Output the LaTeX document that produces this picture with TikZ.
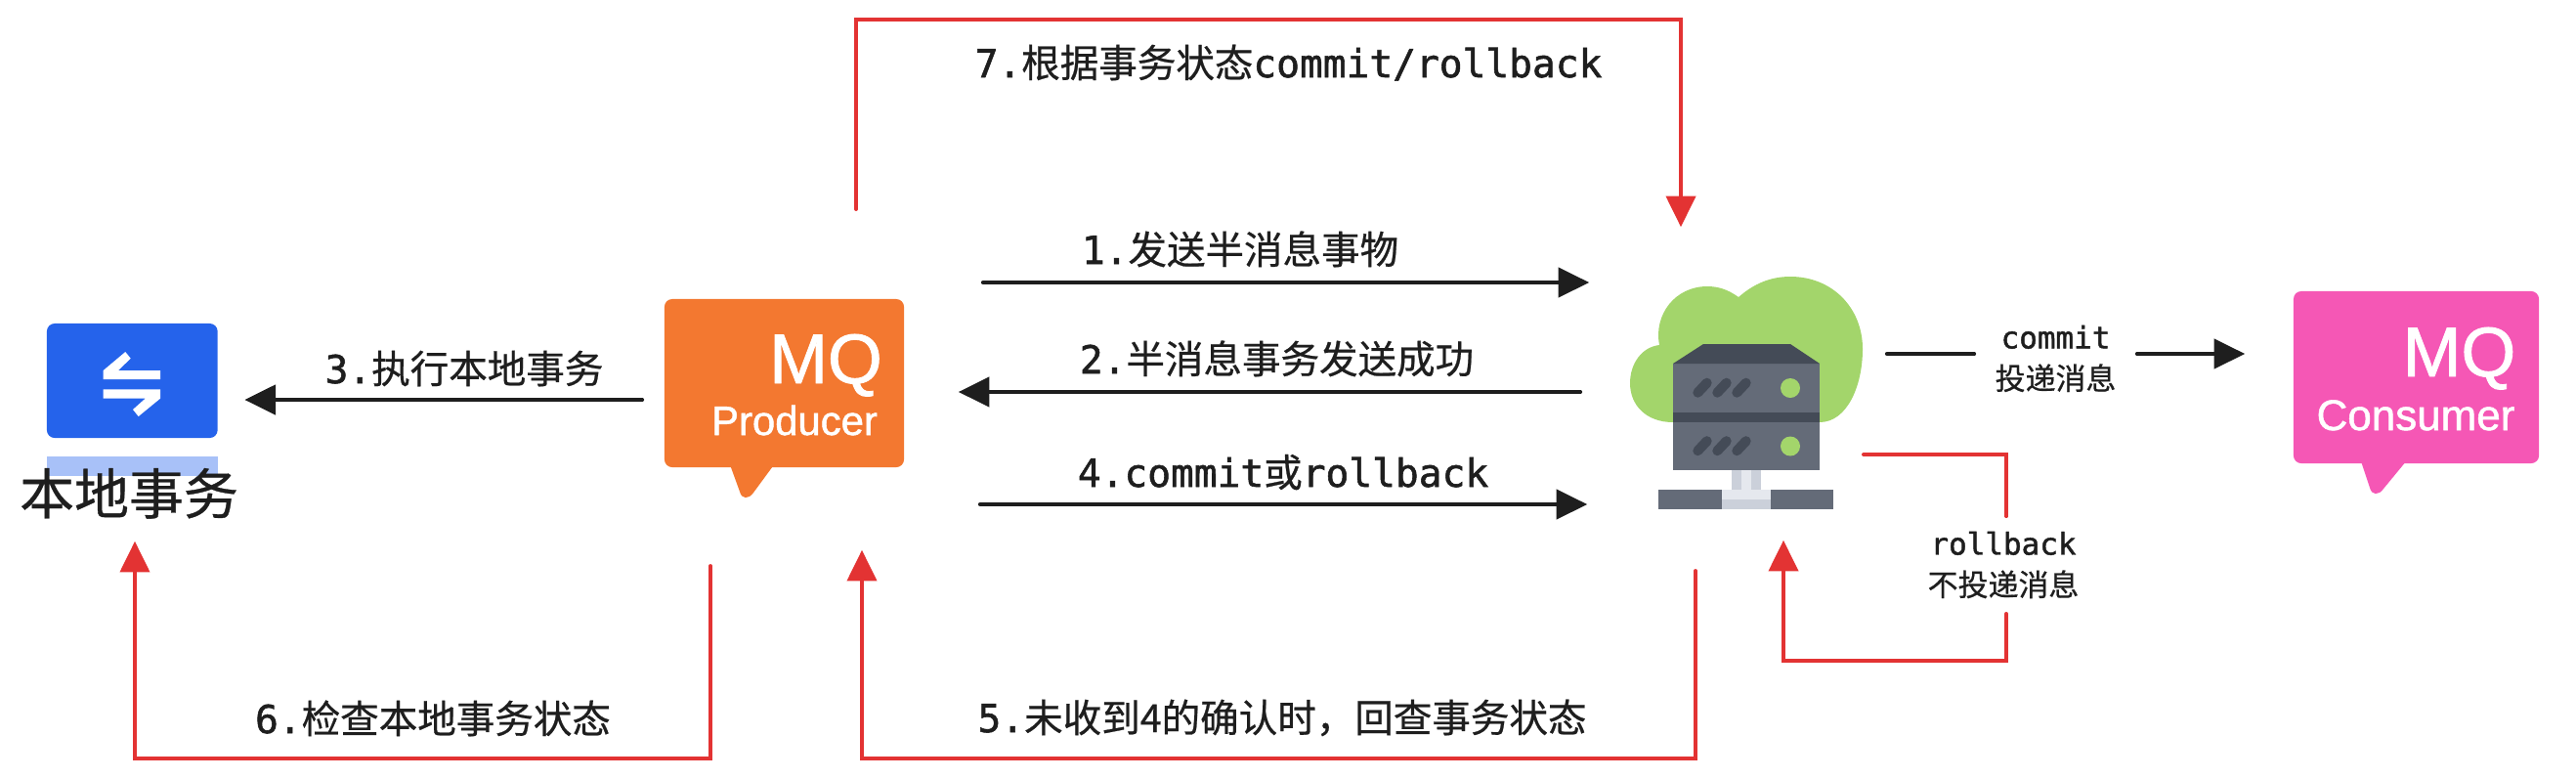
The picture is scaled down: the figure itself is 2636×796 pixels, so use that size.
\documentclass[tikz,border=0pt]{standalone}
\usepackage{fontspec}
\setmainfont{Liberation Sans}[FakeBold=1.2]
\setmonofont{DejaVu Sans Mono}[FakeBold=1.4]
\newfontfamily\cjk{Noto Sans CJK SC}[FakeBold=0.6]
\usetikzlibrary{arrows.meta}
\newlength\px
\setlength\px{0.1mm}
\newcommand{\zh}[1]{{\cjk #1}}
\definecolor{ink}{HTML}{1E1E1E}
\definecolor{redline}{HTML}{E33333}
\definecolor{localblue}{HTML}{2563EB}
\definecolor{localbar}{HTML}{A8C1F8}
\definecolor{prodorange}{HTML}{F37830}
\definecolor{conspink}{HTML}{F557B5}
\definecolor{cloudgreen}{HTML}{A3D56B}
\definecolor{rackgray}{HTML}{646B78}
\definecolor{rackdark}{HTML}{444B57}
\definecolor{standgray}{HTML}{CBD0DA}
\definecolor{standlight}{HTML}{E5E8EE}
\tikzset{
>={Triangle[length=9pt,width=8.6pt]},
flow/.style={draw=ink, line width=3.8\px, line cap=round},
alarm/.style={draw=redline, line width=3.5\px, line cap=round},
alarmtip/.style={alarm, ->},
step label/.style={text=ink, inner sep=0pt, anchor=base, font=\ttfamily\fontsize{11.24}{13}\selectfont},
small label/.style={text=ink, inner sep=0pt, align=center, font=\ttfamily\fontsize{8.8}{11}\selectfont},
bubble/.style={rounded corners=8\px, inner sep=0pt},
mq/.style={text=white, inner sep=0pt, anchor=base, font=\fontsize{20.4}{22}\selectfont},
mq role/.style={text=white, inner sep=0pt, anchor=base},
}
\begin{document}
\begin{tikzpicture}[x=0.01cm, y=-0.01cm]
\useasboundingbox (0,0) rectangle (2636,796);
\coordinate (rowa) at (0,289);
\coordinate (rowb) at (0,401);
\coordinate (rowc) at (0,409);
\coordinate (rowd) at (0,516);
\coordinate (rowe) at (0,362);
\coordinate (rowf) at (0,465);
\coordinate (rowg) at (0,676);
\coordinate (rowh) at (0,20);
\coordinate (rowi) at (0,776);
\coordinate (colback) at (2053,0);
\coordinate (colup) at (1825,0);
\coordinate (colseven) at (876,0);
\coordinate (coldown) at (1720,0);
\coordinate (colfive) at (1735,0);
\coordinate (colprod) at (882,0);
\coordinate (colsix) at (727,0);
\coordinate (collocal) at (138,0);

\fill[localbar] (48,467) rectangle (222.6,487);
\node[bubble, fill=localblue, minimum width=174.6\px, minimum height=117\px] (localtx) at (135.3,389.5) {};
\fill[white] (105.7,388) -- (105.7,379) -- (128.3,360) -- (133.7,366.7) -- (121,379) -- (164,379) -- (164,388) -- cycle;
\fill[white] (105.7,398.3) -- (164,398.3) -- (164,407.7) -- (141.7,426) -- (136,419) -- (148.7,407.7) -- (105.7,407.7) -- cycle;
\node[text=ink, inner sep=0pt, anchor=base, font=\fontsize{15.9}{18}\selectfont] (localname) at (132,526) {\zh{本地事务}};

\fill[prodorange] (745,470) -- (757,503) .. controls (759,511) and (766,511) .. (771,504) -- (796,470) -- cycle;
\node[bubble, fill=prodorange, minimum width=245\px, minimum height=172\px] (producer) at (802.5,392) {};
\node[mq] (prodmq) at (845,392) {MQ};
\node[mq role, font=\fontsize{11.9}{14}\selectfont] (prodrole) at (813,445) {Producer};

\fill[conspink] (2414,466) -- (2425,499) .. controls (2427,507) and (2434,507) .. (2439,500) -- (2467,466) -- cycle;
\node[bubble, fill=conspink, minimum width=251\px, minimum height=176\px] (consumer) at (2472.5,386) {};
\node[mq] (consmq) at (2516.5,385) {MQ};
\node[mq role, font=\fontsize{12.5}{14}\selectfont] (consrole) at (2472,440) {Consumer};

\node[minimum width=238\px, minimum height=238\px, inner sep=0pt] (server) at (1787,402) {};
\fill[cloudgreen] (1698,353) .. controls (1680,355) and (1668,372) .. (1668,392)
 .. controls (1668,415) and (1685,432) .. (1712,432) -- (1862,432)
 .. controls (1890,432) and (1906,395) .. (1906,357)
 .. controls (1906,315) and (1875,283) .. (1832,283)
 .. controls (1812,283) and (1795,290) .. (1779,304)
 .. controls (1768,296) and (1758,293) .. (1747,293)
 .. controls (1714,293) and (1692,322) .. (1698,353) -- cycle;
\fill[standgray] (1772,481) rectangle (1802,501);
\fill[standlight] (1782,481) rectangle (1792,501);
\fill[rackgray] (1697,501) rectangle (1876,521);
\fill[standlight] (1762,501) rectangle (1812,511);
\fill[standgray] (1762,511) rectangle (1812,521);
\fill[rackgray] (1712,372) rectangle (1862,481);
\fill[rackdark] (1712,372) -- (1743,352) -- (1832,352) -- (1862,372) -- cycle;
\fill[rackdark] (1712,422) rectangle (1862,432);
\foreach \dy in {0,59.5}{
\foreach \dx in {0,20,40}
\draw[rackdark, line width=10\px, line cap=round] (1737.3+\dx,401.7+\dy) -- (1746.7+\dx,391.7+\dy);
\fill[cloudgreen] (1832,397+\dy) circle [radius=10];
}

\draw[flow, ->, shorten <=80\px, shorten >=41\px] (producer.east |- rowa) -- (server.west |- rowa);
\draw[flow, ->, shorten <=50\px, shorten >=55\px] (server.west |- rowb) -- (producer.east |- rowb);
\draw[flow, ->, shorten <=22\px, shorten >=27\px] (producer.west |- rowc) -- (localtx.east |- rowc);
\draw[flow, ->, shorten <=77\px, shorten >=43\px] (producer.east |- rowd) -- (server.west |- rowd);

\node[small label, minimum width=165\px] (commitnote) at (2103.5,367) {commit\\[1pt]\zh{投递消息}};
\draw[flow, shorten <=24\px] (server.east |- rowe) -- (commitnote.west |- rowe);
\draw[flow, ->, shorten >=49\px] (commitnote.east |- rowe) -- (consumer.west |- rowe);

\node[small label, minimum height=98\px] (rollbacknote) at (2050,578) {rollback\\[1pt]\zh{不投递消息}};
\draw[alarm] (server.east |- rowf) -| (rollbacknote.north -| colback);
\draw[alarmtip, shorten >=31\px] (rollbacknote.south -| colback) |- (rowg -| colup) -- (server.south -| colup);

\draw[alarmtip, shorten <=91\px, shorten >=50\px] (producer.north -| colseven) |- (rowh -| coldown) -- (server.north -| coldown);
\draw[alarmtip, shorten <=62\px, shorten >=84\px] (server.south -| colfive) |- (rowi -| colprod) -- (producer.south -| colprod);
\draw[alarmtip, shorten <=100\px, shorten >=105\px] (producer.south -| colsix) |- (rowi -| collocal) -- (localtx.south -| collocal);

\node[step label] (stepone) at (1269,270) {1.\zh{发送半消息事物}};
\node[step label] (steptwo) at (1306.5,382) {2.\zh{半消息事务发送成功}};
\node[step label] (stepthree) at (475,392) {3.\zh{执行本地事务}};
\node[step label] (stepfour) at (1313,498) {4.commit\zh{或}rollback};
\node[step label] (stepfive) at (1312,749) {5.\zh{未收到4的确认时，回查事务状态}};
\node[step label] (stepsix) at (443,750) {6.\zh{检查本地事务状态}};
\node[step label] (stepseven) at (1318.5,79) {7.\zh{根据事务状态}commit/rollback};
\end{tikzpicture}
\end{document}
